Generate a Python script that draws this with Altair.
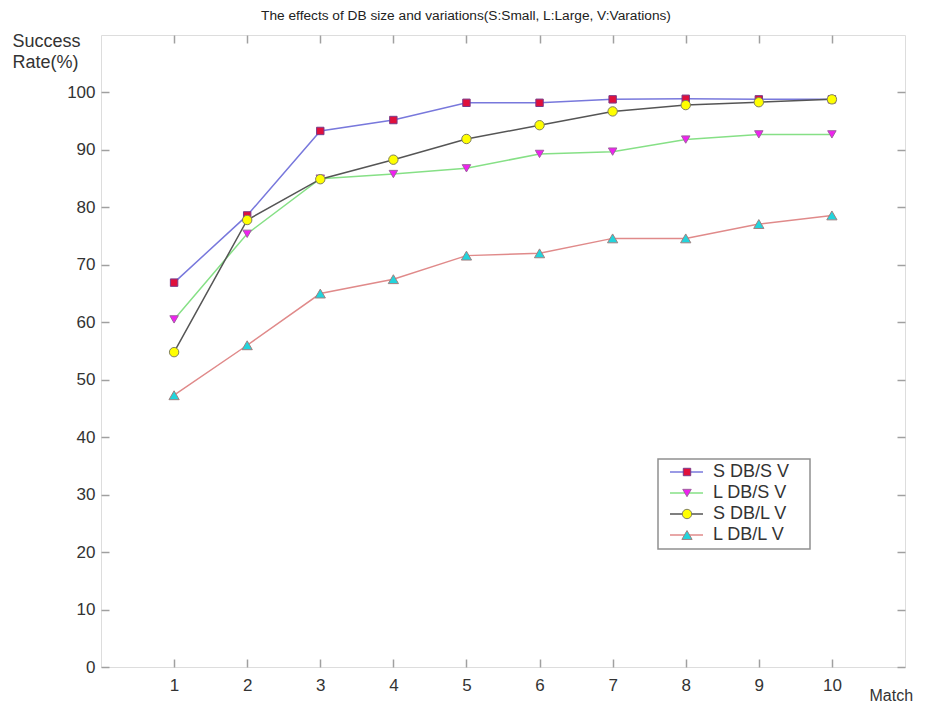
import altair as alt
import pandas as pd

# ---------------- data ----------------
matches = [1, 2, 3, 4, 5, 6, 7, 8, 9, 10]
series_names = ["S DB/S V", "L DB/S V", "S DB/L V", "L DB/L V"]
s_db_s_v = [66.9, 78.6, 93.3, 95.2, 98.2, 98.2, 98.8, 98.9, 98.8, 98.8]
l_db_s_v = [60.5, 75.4, 85.0, 85.8, 86.8, 89.3, 89.7, 91.8, 92.7, 92.7]
s_db_l_v = [54.8, 77.8, 84.9, 88.3, 91.9, 94.3, 96.7, 97.8, 98.3, 98.8]
l_db_l_v = [47.3, 56.0, 65.0, 67.5, 71.6, 72.0, 74.6, 74.6, 77.1, 78.6]
x_ticks = [1, 2, 3, 4, 5, 6, 7, 8, 9, 10]
y_ticks = [0, 10, 20, 30, 40, 50, 60, 70, 80, 90, 100]

values = {
    "S DB/S V": s_db_s_v,
    "L DB/S V": l_db_s_v,
    "S DB/L V": s_db_l_v,
    "L DB/L V": l_db_l_v,
}
draw_order = ["S DB/S V", "L DB/S V", "L DB/L V", "S DB/L V"]
rows = []
for s in draw_order:
    for m, v in zip(matches, values[s]):
        rows.append({"match": m, "rate": v, "series": s})
df = pd.DataFrame(rows)
leg_df = pd.DataFrame({"series": series_names, "idx": list(range(len(series_names)))})

# ---------------- style ----------------
FONT = "Liberation Sans"
line_colors = ["#7878dc", "#86e086", "#555555", "#e08a8a"]
fill_colors = ["#e0103c", "#f020f0", "#ffff00", "#22d4dc"]
edge_colors = ["#7a3a8a", "#a060a0", "#808060", "#a08080"]
shapes = ["square", "triangle-down", "circle", "triangle-up"]
sizes = [55, 105, 125, 115]

x_scale = alt.Scale(domain=[0, 11], nice=False, zero=False)
y_scale = alt.Scale(domain=[0, 110], nice=False)
color_s = alt.Scale(domain=series_names, range=line_colors)
fill_s = alt.Scale(domain=series_names, range=fill_colors)
stroke_s = alt.Scale(domain=series_names, range=edge_colors)
shape_s = alt.Scale(domain=series_names, range=shapes)
size_s = alt.Scale(domain=series_names, range=sizes)

axis_common = dict(
    grid=False, domain=False, offset=-8, tickSize=8,
    tickColor="#a0a0a0", tickWidth=1.5,
    labelFont=FONT, labelFontSize=17, labelColor="#333333",
)

lines = alt.Chart(df).mark_line(strokeWidth=1.5).encode(
    x=alt.X("match:Q", scale=x_scale, axis=alt.Axis(
        orient="bottom", values=x_ticks, labelPadding=10,
        title="Match", titleFont=FONT, titleFontSize=16, titleFontWeight="normal",
        titleColor="#333333", titleAlign="left", titleBaseline="middle",
        titleX=768, titleY=36, **axis_common)),
    y=alt.Y("rate:Q", scale=y_scale, axis=alt.Axis(
        orient="left", values=y_ticks, labelPadding=6,
        title=["Success", "Rate(%)"], titleFont=FONT, titleFontSize=18,
        titleFontWeight="normal", titleColor="#333333", titleAngle=0,
        titleAlign="left", titleBaseline="top", titleLineHeight=21,
        titleX=-97, titleY=-3, **axis_common)),
    color=alt.Color("series:N", scale=color_s, legend=None),
)

points = alt.Chart(df).mark_point(filled=True, opacity=1, strokeWidth=1, strokeOpacity=1).encode(
    x=alt.X("match:Q", scale=x_scale, axis=alt.Axis(
        orient="top", values=x_ticks, labels=False, title=None, **axis_common)),
    y=alt.Y("rate:Q", scale=y_scale, axis=alt.Axis(
        orient="right", values=y_ticks, labels=False, title=None, **axis_common)),
    shape=alt.Shape("series:N", scale=shape_s, legend=None),
    fill=alt.Fill("series:N", scale=fill_s, legend=None),
    stroke=alt.Stroke("series:N", scale=stroke_s, legend=None),
    size=alt.Size("series:N", scale=size_s, legend=None),
)

data_layer = alt.layer(lines, points).resolve_axis(x="independent", y="independent")

# ---------------- legend ----------------
leg_y = alt.Y("idx:Q", scale=alt.Scale(domain=[0, 3], range=[437, 500], nice=False, zero=False), axis=None)

box = alt.Chart(alt.Data(values=[{}])).mark_rect(
    fill="white", stroke="#909090", strokeWidth=1.5
).encode(x=alt.value(557), x2=alt.value(709), y=alt.value(424), y2=alt.value(514))

leg_lines = alt.Chart(leg_df).mark_rule(strokeWidth=1.5).encode(
    x=alt.value(569), x2=alt.value(602), y=leg_y,
    color=alt.Color("series:N", scale=color_s, legend=None),
)
leg_pts = alt.Chart(leg_df).mark_point(filled=True, opacity=1, strokeWidth=1, strokeOpacity=1).encode(
    x=alt.value(586), y=leg_y,
    shape=alt.Shape("series:N", scale=shape_s, legend=None),
    fill=alt.Fill("series:N", scale=fill_s, legend=None),
    stroke=alt.Stroke("series:N", scale=stroke_s, legend=None),
    size=alt.Size("series:N", scale=size_s, legend=None),
)
leg_text = alt.Chart(leg_df).mark_text(
    align="left", baseline="middle", font=FONT, fontSize=18, color="#333333"
).encode(x=alt.value(612), y=leg_y, text="series:N")

legend_layer = alt.layer(box, leg_lines, leg_pts, leg_text)

chart = alt.layer(data_layer, legend_layer).resolve_scale(y="independent").properties(
    width=804,
    height=632,
    autosize=alt.AutoSizeParams(type="none"),
    padding={"left": 93, "top": 27, "right": 12, "bottom": 37},
    title=alt.TitleParams(
        text="The effects of DB size and variations(S:Small, L:Large, V:Varations)",
        font=FONT, fontSize=13.7, fontWeight="normal", color="#222222",
        anchor="middle", dx=-37, offset=2, frame="group", baseline="middle",
    ),
).configure_view(stroke="#a0a0a0", strokeWidth=2).configure(background="white")

chart.save("out.html", embed_options={"renderer": "svg", "actions": False})
